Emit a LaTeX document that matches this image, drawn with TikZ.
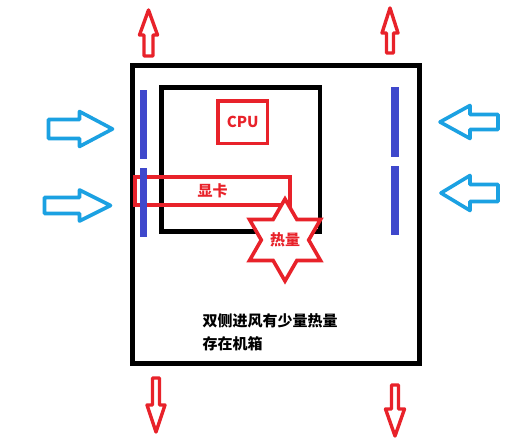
\documentclass[tikz,border=0pt]{standalone}
\usepackage{fontspec}
\setmainfont{Noto Sans CJK SC}
\usetikzlibrary{shapes.geometric}
\definecolor{paintred}{HTML}{E8222A}
\definecolor{paintblue}{HTML}{3F48CC}
\definecolor{paintcyan}{HTML}{1BA1E2}

\newcommand{\fatarrow}[7]{%
  \draw[#1, shift={#2}, rotate=#3] (0,-#5) -- ({#4-#7},-#5) -- ({#4-#7},-#6)
    -- (#4,0) -- ({#4-#7},#6) -- ({#4-#7},#5) -- (0,#5) -- cycle;}

\begin{document}
\begin{tikzpicture}[x=1pt, y=-1pt,
    casebox/.style={draw=black, line width=#1},
    partbox/.style={draw=paintred, line width=3.8pt, text=paintred,
      font=\bfseries\fontsize{15}{15}\selectfont},
    hotarrow/.style={draw=paintred, line width=3.4pt, line join=round},
    coolarrow/.style={draw=paintcyan, line width=3.6pt, line join=round},
    fanbar/.style={fill=paintblue}
  ]
  \useasboundingbox (0,0) rectangle (524,446);
  \fill[white] (0,0) rectangle (524,446);
  \draw[casebox=5pt] (132.5,65.5) rectangle (419.5,363);
  \draw[casebox=4.5pt] (161.5,87.5) rectangle (320,231.5);
  \node[partbox, minimum width=49.5pt, minimum height=42.5pt] (cpu)
    at (242.75,122.25) {CPU};
  \node[partbox, minimum width=155pt, minimum height=28pt] (gpu)
    at (212.5,191) {显卡};
  \fill[fanbar] (139.5,90) rectangle (146.5,159);
  \fill[fanbar] (139.5,168) rectangle (146.5,237);
  \fill[fanbar] (391,87) rectangle (399,157);
  \fill[fanbar] (391,166) rectangle (399,235);
  \node[star, star points=6, star point ratio=1.73, minimum size=82pt,
    inner sep=0pt, draw=paintred, fill=white, line width=3.6pt,
    text=paintred, font=\bfseries\fontsize{15}{15}\selectfont] (heat)
    at (285,240) {热量};
  \node[anchor=west, align=left, font=\bfseries\fontsize{15}{23}\selectfont]
    (note) at (199,332.5) {双侧进风有少量热量\\存在机箱};
  \fatarrow{hotarrow}{(148.5,56)}{90}{46}{4.5}{9}{25}
  \fatarrow{hotarrow}{(390,53)}{90}{45}{3.5}{8}{25}
  \fatarrow{hotarrow}{(156,378)}{-90}{54}{3.5}{9}{27}
  \fatarrow{hotarrow}{(395,385)}{-90}{51}{3.5}{9.5}{27}
  \fatarrow{coolarrow}{(48.5,129)}{0}{64}{9.5}{17.5}{33}
  \fatarrow{coolarrow}{(44.5,205.5)}{0}{66}{8}{15.5}{31}
  \fatarrow{coolarrow}{(498,122)}{180}{58}{7.5}{16.5}{30}
  \fatarrow{coolarrow}{(498,193)}{180}{57}{8.5}{17.5}{29}
\end{tikzpicture}
\end{document}
